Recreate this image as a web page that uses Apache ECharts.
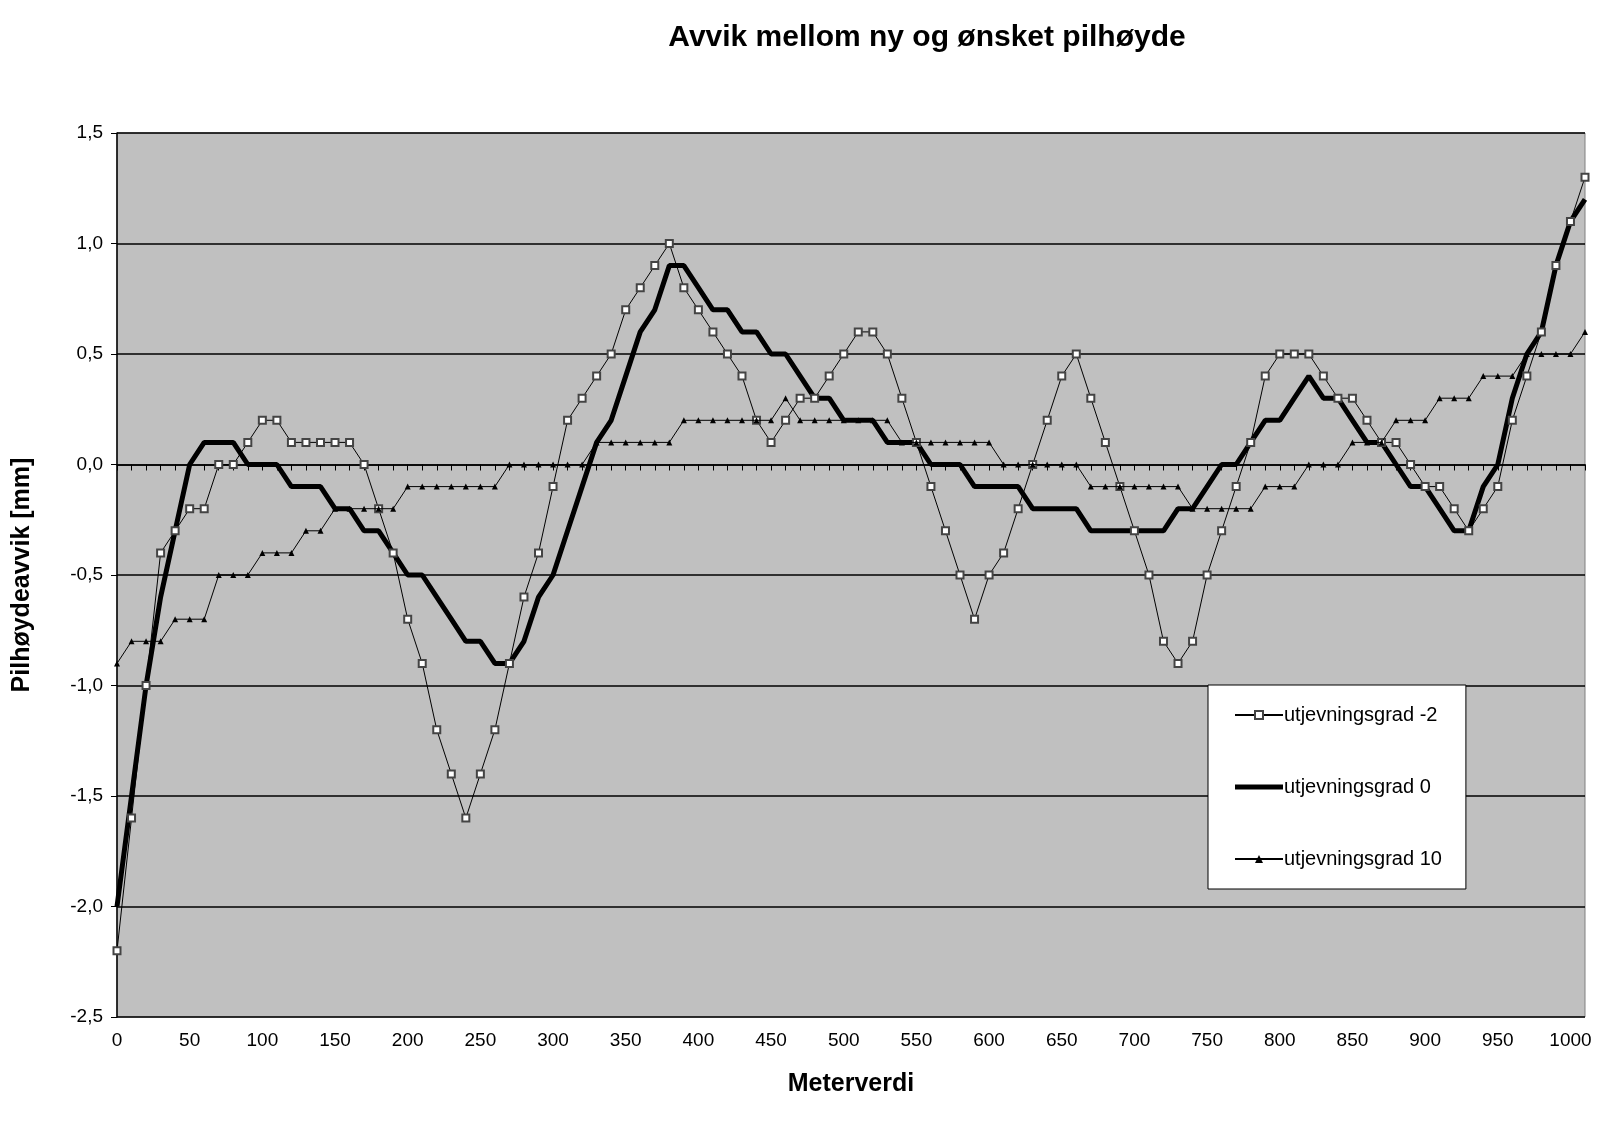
<!DOCTYPE html>
<html>
<head>
<meta charset="utf-8">
<script src="https://cdn.jsdelivr.net/npm/echarts@6/dist/echarts.min.js"></script>
<style>
  html, body { margin: 0; padding: 0; background: #fff; }
  #chart { width: 1600px; height: 1145px; }
</style>
</head>
<body>
<div id="chart"></div>
<script>
// meterverdi, hver 10 m fra 0 til 1010
var meter = [];
for (var m = 0; m <= 1010; m += 10) meter.push(String(m));

// utjevningsgrad -2
var grad_minus2 = [
  -2.2, -1.6, -1.0, -0.4, -0.3, -0.2, -0.2, 0.0, 0.0, 0.1,
  0.2, 0.2, 0.1, 0.1, 0.1, 0.1, 0.1, 0.0, -0.2, -0.4,
  -0.7, -0.9, -1.2, -1.4, -1.6, -1.4, -1.2, -0.9, -0.6, -0.4,
  -0.1, 0.2, 0.3, 0.4, 0.5, 0.7, 0.8, 0.9, 1.0, 0.8,
  0.7, 0.6, 0.5, 0.4, 0.2, 0.1, 0.2, 0.3, 0.3, 0.4,
  0.5, 0.6, 0.6, 0.5, 0.3, 0.1, -0.1, -0.3, -0.5, -0.7,
  -0.5, -0.4, -0.2, 0.0, 0.2, 0.4, 0.5, 0.3, 0.1, -0.1,
  -0.3, -0.5, -0.8, -0.9, -0.8, -0.5, -0.3, -0.1, 0.1, 0.4,
  0.5, 0.5, 0.5, 0.4, 0.3, 0.3, 0.2, 0.1, 0.1, 0.0,
  -0.1, -0.1, -0.2, -0.3, -0.2, -0.1, 0.2, 0.4, 0.6, 0.9,
  1.1, 1.3
];

// utjevningsgrad 0
var grad_0 = [
  -2.0, -1.5, -1.0, -0.6, -0.3, 0.0, 0.1, 0.1, 0.1, 0.0,
  0.0, 0.0, -0.1, -0.1, -0.1, -0.2, -0.2, -0.3, -0.3, -0.4,
  -0.5, -0.5, -0.6, -0.7, -0.8, -0.8, -0.9, -0.9, -0.8, -0.6,
  -0.5, -0.3, -0.1, 0.1, 0.2, 0.4, 0.6, 0.7, 0.9, 0.9,
  0.8, 0.7, 0.7, 0.6, 0.6, 0.5, 0.5, 0.4, 0.3, 0.3,
  0.2, 0.2, 0.2, 0.1, 0.1, 0.1, 0.0, 0.0, 0.0, -0.1,
  -0.1, -0.1, -0.1, -0.2, -0.2, -0.2, -0.2, -0.3, -0.3, -0.3,
  -0.3, -0.3, -0.3, -0.2, -0.2, -0.1, 0.0, 0.0, 0.1, 0.2,
  0.2, 0.3, 0.4, 0.3, 0.3, 0.2, 0.1, 0.1, 0.0, -0.1,
  -0.1, -0.2, -0.3, -0.3, -0.1, 0.0, 0.3, 0.5, 0.6, 0.9,
  1.1, 1.2
];

// utjevningsgrad 10
var grad_10 = [
  -0.9, -0.8, -0.8, -0.8, -0.7, -0.7, -0.7, -0.5, -0.5, -0.5,
  -0.4, -0.4, -0.4, -0.3, -0.3, -0.2, -0.2, -0.2, -0.2, -0.2,
  -0.1, -0.1, -0.1, -0.1, -0.1, -0.1, -0.1, 0.0, 0.0, 0.0,
  0.0, 0.0, 0.0, 0.1, 0.1, 0.1, 0.1, 0.1, 0.1, 0.2,
  0.2, 0.2, 0.2, 0.2, 0.2, 0.2, 0.3, 0.2, 0.2, 0.2,
  0.2, 0.2, 0.2, 0.2, 0.1, 0.1, 0.1, 0.1, 0.1, 0.1,
  0.1, 0.0, 0.0, 0.0, 0.0, 0.0, 0.0, -0.1, -0.1, -0.1,
  -0.1, -0.1, -0.1, -0.1, -0.2, -0.2, -0.2, -0.2, -0.2, -0.1,
  -0.1, -0.1, 0.0, 0.0, 0.0, 0.1, 0.1, 0.1, 0.2, 0.2,
  0.2, 0.3, 0.3, 0.3, 0.4, 0.4, 0.4, 0.5, 0.5, 0.5,
  0.5, 0.6
];

var myChart = echarts.init(document.getElementById('chart'));
var font = 'Liberation Sans, Arial, sans-serif';

var option = {
  animation: false,
  textStyle: { fontFamily: font, color: '#000' },
  title: {
    text: 'Avvik mellom ny og ønsket pilhøyde',
    left: 922, top: 18, textAlign: 'center',
    textStyle: { fontSize: 30, fontWeight: 'bold', color: '#000', fontFamily: font }
  },
  grid: {
    left: 117, right: 15, top: 133, bottom: 128,
    show: true, backgroundColor: '#c0c0c0', borderColor: '#808080', borderWidth: 1
  },
  legend: {
    orient: 'vertical',
    left: 1208, top: 685,
    width: 297,
    padding: [20, 24, 20, 26],
    itemGap: 52,
    itemWidth: 48, itemHeight: 10,
    backgroundColor: '#fff', borderColor: '#000', borderWidth: 1,
    textStyle: { fontSize: 20, color: '#000', fontFamily: font, padding: [0, 40, 0, -4] },
    data: [
      'utjevningsgrad -2',
      { name: 'utjevningsgrad 0', icon: 'path://M0,0 L48,0 L48,5 L0,5 Z' },
      'utjevningsgrad 10'
    ]
  },
  xAxis: {
    type: 'category',
    data: meter,
    boundaryGap: false,
    name: 'Meterverdi',
    nameLocation: 'middle',
    nameGap: 55,
    nameTextStyle: { fontSize: 25, fontWeight: 'bold', color: '#000' },
    axisLine: { lineStyle: { color: '#000', width: 1.5 } },
    axisTick: { interval: 0, length: 6, lineStyle: { color: '#000' } },
    axisLabel: { interval: 4, fontSize: 19, color: '#000', margin: 14 },
    splitLine: { show: false }
  },
  yAxis: {
    type: 'value',
    min: -2.5, max: 1.5, interval: 0.5,
    name: 'Pilhøydeavvik [mm]',
    nameLocation: 'middle',
    nameGap: 82,
    nameTextStyle: { fontSize: 25, fontWeight: 'bold', color: '#000' },
    axisLine: { show: true, lineStyle: { color: '#000', width: 1.5 } },
    axisTick: { show: true, length: 6, lineStyle: { color: '#000' } },
    axisLabel: {
      fontSize: 19, color: '#000', margin: 14,
      formatter: function (v) { return v.toFixed(1).replace('.', ','); }
    },
    splitLine: { lineStyle: { color: '#000', width: 1.5 } }
  },
  series: [
    {
      name: 'utjevningsgrad -2',
      type: 'line',
      data: grad_minus2,
      symbol: 'emptyRect',
      symbolSize: 7,
      showAllSymbol: true,
      lineStyle: { color: '#000', width: 1 },
      itemStyle: { color: '#444', borderColor: '#444', borderWidth: 1 },
      z: 3
    },
    {
      name: 'utjevningsgrad 0',
      type: 'line',
      data: grad_0,
      symbol: 'none',
      lineStyle: { color: '#000', width: 5 },
      itemStyle: { color: '#000' },
      z: 2
    },
    {
      name: 'utjevningsgrad 10',
      type: 'line',
      data: grad_10,
      symbol: 'triangle',
      symbolSize: 6,
      showAllSymbol: true,
      lineStyle: { color: '#000', width: 1 },
      itemStyle: { color: '#000' },
      z: 4
    }
  ]
};

myChart.setOption(option);

window.addEventListener('resize', function () {
  myChart.resize();
});
</script>
</body>
</html>
